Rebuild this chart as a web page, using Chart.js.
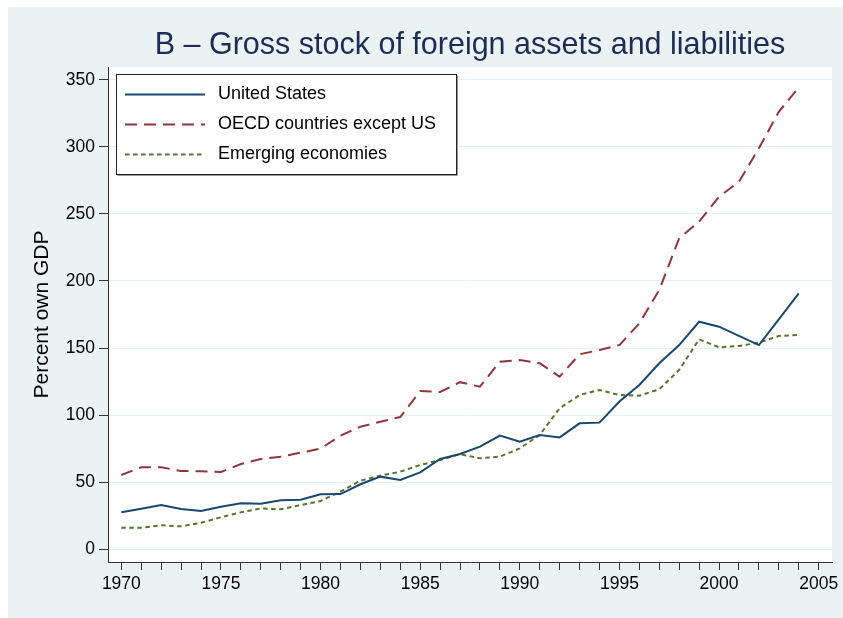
<!DOCTYPE html>
<html>
<head>
<meta charset="utf-8">
<script src="https://cdn.jsdelivr.net/npm/chart.js@4.4.1/dist/chart.umd.min.js"></script>
<style>
  html, body { margin: 0; padding: 0; background: #fff; }
  #wrap { width: 843px; height: 618px; }
</style>
</head>
<body>
<div id="wrap"><canvas id="gross"></canvas></div>
<script>
var years = [1970, 1971, 1972, 1973, 1974, 1975, 1976, 1977, 1978, 1979,
             1980, 1981, 1982, 1983, 1984, 1985, 1986, 1987, 1988, 1989,
             1990, 1991, 1992, 1993, 1994, 1995, 1996, 1997, 1998, 1999,
             2000, 2001, 2002, 2003, 2004];

var unitedStates = [27.4, 30.1, 32.8, 29.9, 28.4, 31.6, 34.1, 33.8, 36.3, 36.8,
                    40.8, 41.0, 48.3, 54.0, 51.5, 57.2, 67.2, 70.9, 76.4, 84.6,
                    80.1, 85.1, 83.3, 93.8, 94.3, 110.0, 122.4, 138.6, 152.2, 169.6,
                    165.9, 159.0, 152.2, 171.4, 190.8];

var oecdExUS = [55.2, 61.0, 61.0, 58.2, 58.0, 57.5, 63.4, 67.2, 68.9, 71.9,
                74.9, 84.6, 91.3, 95.0, 98.5, 117.9, 117.2, 124.5, 121.1, 139.8,
                141.0, 138.6, 128.6, 145.3, 148.5, 152.2, 168.4, 193.3, 231.9, 244.3,
                262.9, 274.1, 299.0, 326.3, 344.5];

var emerging = [15.9, 15.9, 17.7, 16.9, 19.6, 23.7, 27.4, 30.3, 29.6, 32.8,
                35.8, 42.8, 51.0, 54.7, 57.7, 62.7, 66.4, 70.8, 67.7, 68.9,
                75.1, 85.1, 105.0, 114.9, 118.7, 114.9, 114.4, 119.2, 133.6, 156.5,
                150.5, 151.5, 154.0, 159.0, 159.7];

var seriesNames = ["United States", "OECD countries except US", "Emerging economies"];

var xTicks = [];
for (var yr = 1970; yr <= 2005; yr++) xTicks.push(yr);
var yTicks = [0, 50, 100, 150, 200, 250, 300, 350];

var fontFam = "'Liberation Sans', Arial, sans-serif";
var bgColor = "#eaf2f3";
var axisColor = "#333333";

// backgrounds: white page, light panel, white plot region
var panelBg = {
  id: "panelBg",
  beforeDraw: function(chart) {
    var ctx = chart.ctx, a = chart.chartArea;
    ctx.save();
    ctx.fillStyle = "#ffffff";
    ctx.fillRect(0, 0, chart.width, chart.height);
    ctx.fillStyle = bgColor;
    ctx.fillRect(8, 7, chart.width - 8, chart.height - 7);
    ctx.fillStyle = "#ffffff";
    ctx.fillRect(a.left, a.top, a.right - a.left, a.bottom - a.top);
    ctx.restore();
  }
};

// boxed legend inside the plot, upper left
var boxLegend = {
  id: "boxLegend",
  afterDraw: function(chart) {
    var ctx = chart.ctx;
    var bx = 116.5, by = 74.5, bw = 340, bh = 100;
    ctx.save();
    ctx.fillStyle = "#ffffff";
    ctx.fillRect(bx, by, bw, bh);
    ctx.strokeStyle = "#9a9a9a";
    ctx.lineWidth = 1;
    ctx.beginPath();
    ctx.moveTo(bx + 1, by + bh + 1);
    ctx.lineTo(bx + bw + 1, by + bh + 1);
    ctx.lineTo(bx + bw + 1, by + 1);
    ctx.stroke();
    ctx.strokeStyle = "#222222";
    ctx.strokeRect(bx, by, bw, bh);
    chart.data.datasets.forEach(function(ds, i) {
      var ly = 94.5 + i * 30;
      ctx.strokeStyle = ds.borderColor;
      ctx.lineWidth = ds.borderWidth;
      ctx.setLineDash(ds.borderDash || []);
      ctx.beginPath();
      ctx.moveTo(125, ly);
      ctx.lineTo(205, ly);
      ctx.stroke();
      ctx.setLineDash([]);
      ctx.fillStyle = "#000000";
      ctx.font = "18px " + fontFam;
      ctx.textBaseline = "middle";
      ctx.textAlign = "left";
      ctx.fillText(ds.label, 218, ly);
    });
    ctx.restore();
  }
};

var ctx = document.getElementById("gross");
var chart = new Chart(ctx, {
  type: "line",
  data: {
    labels: years,
    datasets: [{
      label: seriesNames[0],
      data: unitedStates,
      borderColor: "#1a476f",
      borderWidth: 2,
      pointRadius: 0,
      tension: 0
    }, {
      label: seriesNames[1],
      data: oecdExUS,
      borderColor: "#90353b",
      borderWidth: 2,
      borderDash: [12, 7],
      pointRadius: 0,
      tension: 0
    }, {
      label: seriesNames[2],
      data: emerging,
      borderColor: "#55752f",
      borderWidth: 2,
      borderDash: [4.5, 3.5],
      pointRadius: 0,
      tension: 0
    }]
  },
  plugins: [panelBg, boxLegend],
  options: {
    responsive: true,
    maintainAspectRatio: false,
    animation: false,
    layout: { padding: { left: 0, right: 11, top: 0, bottom: 0 } },
    plugins: {
      legend: { display: false },
      tooltip: { enabled: false },
      title: {
        display: true,
        fullSize: false,
        text: "B \u2013 Gross stock of foreign assets and liabilities",
        color: "#1e2c55",
        font: { family: fontFam, size: 30.5, weight: "normal" },
        padding: { top: 27, bottom: 3.4 }
      }
    },
    scales: {
      x: {
        type: "linear",
        min: 1969.33,
        max: 2005.67,
        afterBuildTicks: function(scale) {
          scale.ticks = xTicks.map(function(v) { return { value: v }; });
        },
        afterFit: function(scale) { scale.height = 56; },
        grid: {
          drawOnChartArea: false,
          tickLength: 8,
          tickColor: axisColor,
          tickWidth: 1
        },
        border: { display: true, color: axisColor, width: 1 },
        ticks: {
          autoSkip: false,
          maxRotation: 0,
          padding: 4,
          color: "#000000",
          font: { family: fontFam, size: 17.5 },
          callback: function(v) { return v % 5 === 0 ? String(v) : ""; }
        }
      },
      y: {
        min: -9.7,
        max: 359.7,
        afterBuildTicks: function(scale) {
          scale.ticks = yTicks.map(function(v) { return { value: v }; });
        },
        afterFit: function(scale) { scale.width = 108; },
        grid: {
          color: "#e6eff1",
          lineWidth: 1,
          tickLength: 9,
          tickColor: axisColor
        },
        border: { display: true, color: axisColor, width: 1 },
        ticks: {
          padding: 4,
          color: "#000000",
          font: { family: fontFam, size: 17.5 }
        },
        title: {
          display: true,
          text: "Percent own GDP",
          color: "#000000",
          font: { family: fontFam, size: 21 },
          padding: { top: 30, bottom: 0 }
        }
      }
    }
  }
});
</script>
</body>
</html>
